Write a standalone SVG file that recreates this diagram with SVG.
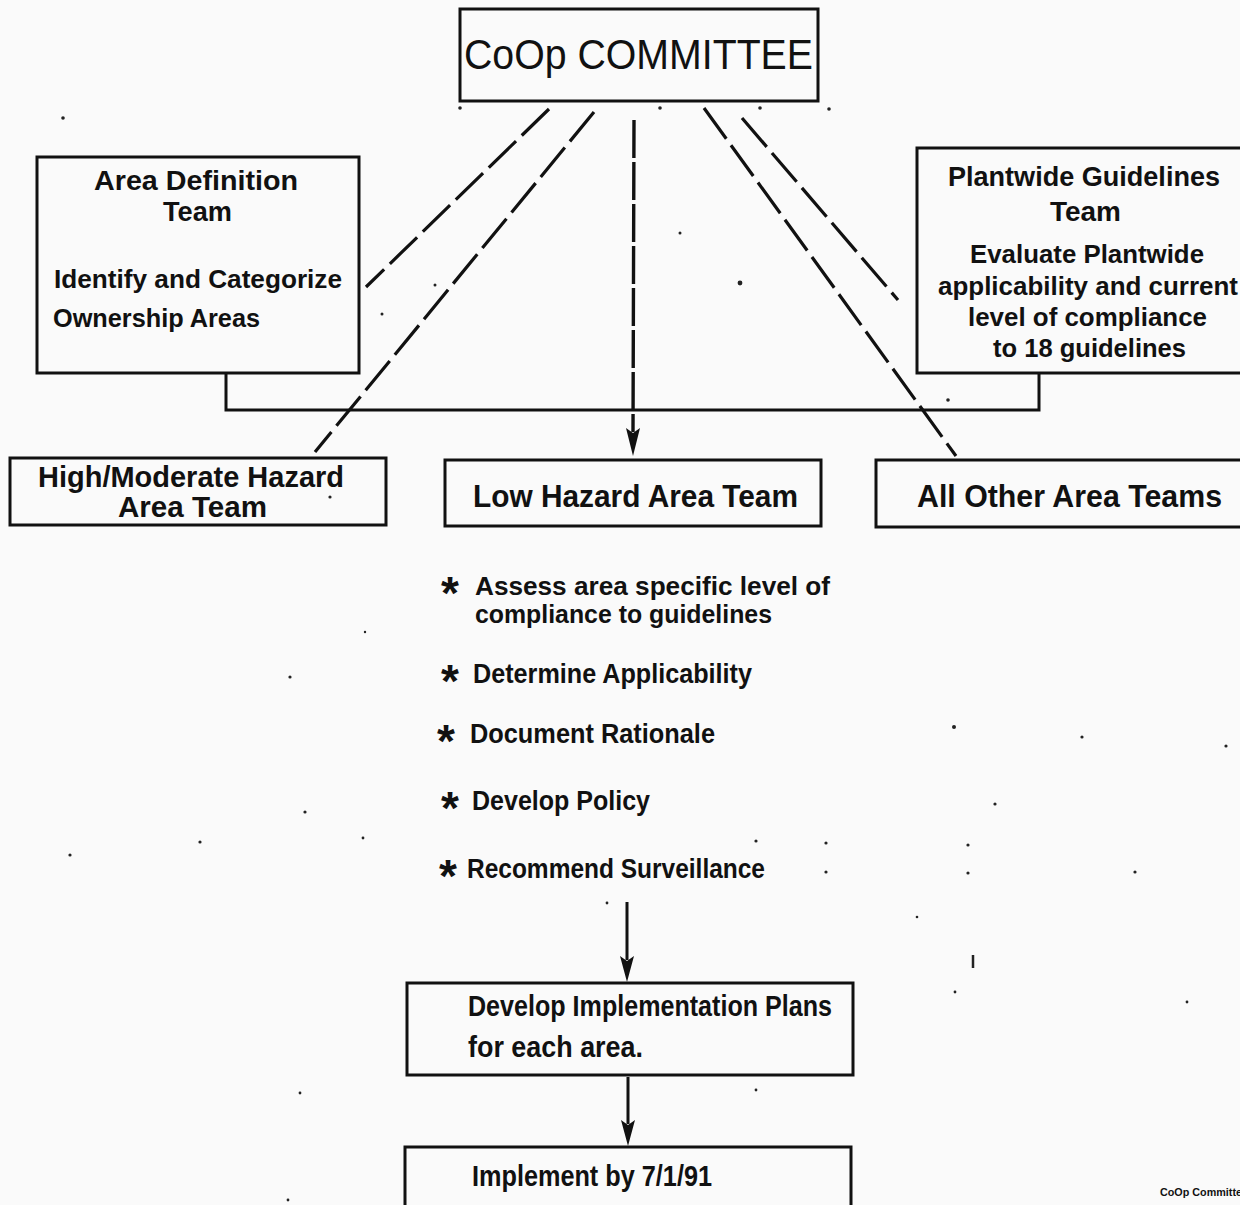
<svg xmlns="http://www.w3.org/2000/svg" width="1240" height="1205" viewBox="0 0 1240 1205">
<style>
.box{fill:none;stroke:#111;stroke-width:3}
.t{font-family:"Liberation Sans","Arial",sans-serif;font-weight:bold;fill:#111}
.ast{font-family:"Liberation Sans","Arial",sans-serif;font-weight:bold;fill:#111;font-size:46px}
.title{font-family:"Liberation Sans","Arial",sans-serif;font-weight:normal;fill:#111}
.dash{fill:none;stroke:#111;stroke-width:3.2;stroke-dasharray:38 8}
.vdash{fill:none;stroke:#111;stroke-width:3.4;stroke-dasharray:38 4}
.solid{fill:none;stroke:#111;stroke-width:3}
.speck{fill:#222}
</style>
<rect width="1240" height="1205" fill="#fafafa"/>

<g id="connectors">
<line class="dash" x1="549" y1="109" x2="366" y2="287"/>
<line class="dash" x1="594" y1="112" x2="315" y2="452"/>
<line class="vdash" x1="634" y1="120" x2="633" y2="432"/>
<path d="M626,428 L633,456 L640,428 L633,433 Z" fill="#111"/>
<line class="dash" x1="704" y1="108" x2="956" y2="456"/>
<line class="dash" x1="742" y1="118" x2="898" y2="300"/>
<polyline class="solid" points="226,374 226,410 1039,410 1039,374"/>
<line class="solid" x1="627" y1="902" x2="627" y2="960"/>
<path d="M620,956 L627,982 L634,956 L627,961 Z" fill="#111"/>
<line class="solid" x1="628" y1="1077" x2="628" y2="1124"/>
<path d="M621,1120 L628,1146 L635,1120 L628,1125 Z" fill="#111"/>
</g>

<g id="coop-committee">
<rect class="box" x="460" y="9" width="358" height="92"/>
<text class="title" x="464" y="69" font-size="42" textLength="349" lengthAdjust="spacingAndGlyphs">CoOp COMMITTEE</text>
</g>

<g id="area-definition-team">
<rect class="box" x="37" y="157" width="322" height="216"/>
<text class="t" x="94" y="190" font-size="28" textLength="204" lengthAdjust="spacingAndGlyphs">Area Definition</text>
<text class="t" x="163" y="221" font-size="28" textLength="69" lengthAdjust="spacingAndGlyphs">Team</text>
<text class="t" x="54" y="288" font-size="26" textLength="288" lengthAdjust="spacingAndGlyphs">Identify and Categorize</text>
<text class="t" x="53" y="327" font-size="26" textLength="207" lengthAdjust="spacingAndGlyphs">Ownership Areas</text>
</g>

<g id="plantwide-guidelines-team">
<rect class="box" x="917" y="148" width="330" height="225"/>
<text class="t" x="948" y="186" font-size="28" textLength="272" lengthAdjust="spacingAndGlyphs">Plantwide Guidelines</text>
<text class="t" x="1050" y="221" font-size="28" textLength="71" lengthAdjust="spacingAndGlyphs">Team</text>
<text class="t" x="970" y="263" font-size="26" textLength="234" lengthAdjust="spacingAndGlyphs">Evaluate Plantwide</text>
<text class="t" x="938" y="295" font-size="26" textLength="300" lengthAdjust="spacingAndGlyphs">applicability and current</text>
<text class="t" x="968" y="326" font-size="26" textLength="239" lengthAdjust="spacingAndGlyphs">level of compliance</text>
<text class="t" x="993" y="357" font-size="26" textLength="193" lengthAdjust="spacingAndGlyphs">to 18 guidelines</text>
</g>

<g id="high-moderate-hazard-area-team">
<rect class="box" x="10" y="458" width="376" height="67"/>
<text class="t" x="38" y="487" font-size="29" textLength="306" lengthAdjust="spacingAndGlyphs">High/Moderate Hazard</text>
<text class="t" x="118" y="517" font-size="29" textLength="149" lengthAdjust="spacingAndGlyphs">Area Team</text>
</g>

<g id="low-hazard-area-team">
<rect class="box" x="445" y="460" width="376" height="66"/>
<text class="t" x="473" y="507" font-size="32" textLength="325" lengthAdjust="spacingAndGlyphs">Low Hazard Area Team</text>
</g>

<g id="all-other-area-teams">
<rect class="box" x="876" y="460" width="370" height="67"/>
<text class="t" x="917" y="507" font-size="32" textLength="305" lengthAdjust="spacingAndGlyphs">All Other Area Teams</text>
</g>

<g id="tasks">
<text class="ast" x="441" y="609">*</text>
<text class="t" x="475" y="595" font-size="26" textLength="355" lengthAdjust="spacingAndGlyphs">Assess area specific level of</text>
<text class="t" x="475" y="623" font-size="26" textLength="297" lengthAdjust="spacingAndGlyphs">compliance to guidelines</text>
<text class="ast" x="441" y="697">*</text>
<text class="t" x="473" y="683" font-size="27" textLength="279" lengthAdjust="spacingAndGlyphs">Determine Applicability</text>
<text class="ast" x="437" y="757">*</text>
<text class="t" x="470" y="743" font-size="27" textLength="245" lengthAdjust="spacingAndGlyphs">Document Rationale</text>
<text class="ast" x="441" y="824">*</text>
<text class="t" x="472" y="810" font-size="27" textLength="178" lengthAdjust="spacingAndGlyphs">Develop Policy</text>
<text class="ast" x="439" y="892">*</text>
<text class="t" x="467" y="878" font-size="27" textLength="298" lengthAdjust="spacingAndGlyphs">Recommend Surveillance</text>
</g>

<g id="develop-implementation-plans">
<rect class="box" x="407" y="983" width="446" height="92"/>
<text class="t" x="468" y="1016" font-size="29" textLength="364" lengthAdjust="spacingAndGlyphs">Develop Implementation Plans</text>
<text class="t" x="468" y="1057" font-size="29" textLength="175" lengthAdjust="spacingAndGlyphs">for each area.</text>
</g>

<g id="implement">
<rect class="box" x="405" y="1147" width="446" height="70"/>
<text class="t" x="472" y="1186" font-size="29" textLength="240" lengthAdjust="spacingAndGlyphs">Implement by 7/1/91</text>
</g>

<g id="footer">
<text class="t" x="1160" y="1196" font-size="10" textLength="82" lengthAdjust="spacingAndGlyphs">CoOp Committe</text>
</g>

<g id="specks">
<circle class="speck" cx="63" cy="118" r="1.8"/>
<circle class="speck" cx="460" cy="108" r="1.8"/>
<circle class="speck" cx="660" cy="108" r="1.8"/>
<circle class="speck" cx="760" cy="108" r="1.8"/>
<circle class="speck" cx="829" cy="109" r="1.8"/>
<circle class="speck" cx="740" cy="283" r="2.4"/>
<circle class="speck" cx="435" cy="285" r="1.5"/>
<circle class="speck" cx="382" cy="314" r="1.5"/>
<circle class="speck" cx="680" cy="233" r="1.5"/>
<circle class="speck" cx="948" cy="400" r="1.8"/>
<circle class="speck" cx="330" cy="497" r="1.6"/>
<circle class="speck" cx="290" cy="677" r="1.6"/>
<circle class="speck" cx="365" cy="632" r="1.2"/>
<circle class="speck" cx="954" cy="727" r="2"/>
<circle class="speck" cx="1082" cy="737" r="1.6"/>
<circle class="speck" cx="1226" cy="746" r="1.6"/>
<circle class="speck" cx="995" cy="804" r="1.6"/>
<circle class="speck" cx="305" cy="812" r="1.6"/>
<circle class="speck" cx="200" cy="842" r="1.6"/>
<circle class="speck" cx="70" cy="855" r="1.6"/>
<circle class="speck" cx="363" cy="838" r="1.4"/>
<circle class="speck" cx="756" cy="841" r="1.6"/>
<circle class="speck" cx="826" cy="843" r="1.6"/>
<circle class="speck" cx="826" cy="872" r="1.6"/>
<circle class="speck" cx="968" cy="845" r="1.6"/>
<circle class="speck" cx="968" cy="873" r="1.6"/>
<circle class="speck" cx="917" cy="917" r="1.3"/>
<circle class="speck" cx="1135" cy="872" r="1.6"/>
<circle class="speck" cx="955" cy="992" r="1.4"/>
<circle class="speck" cx="1187" cy="1002" r="1.4"/>
<circle class="speck" cx="300" cy="1093" r="1.4"/>
<circle class="speck" cx="756" cy="1090" r="1.4"/>
<circle class="speck" cx="288" cy="1200" r="1.4"/>
<circle class="speck" cx="607" cy="903" r="1.4"/>
<line x1="973" y1="955" x2="973" y2="968" stroke="#222" stroke-width="2.5"/>
</g>
</svg>
